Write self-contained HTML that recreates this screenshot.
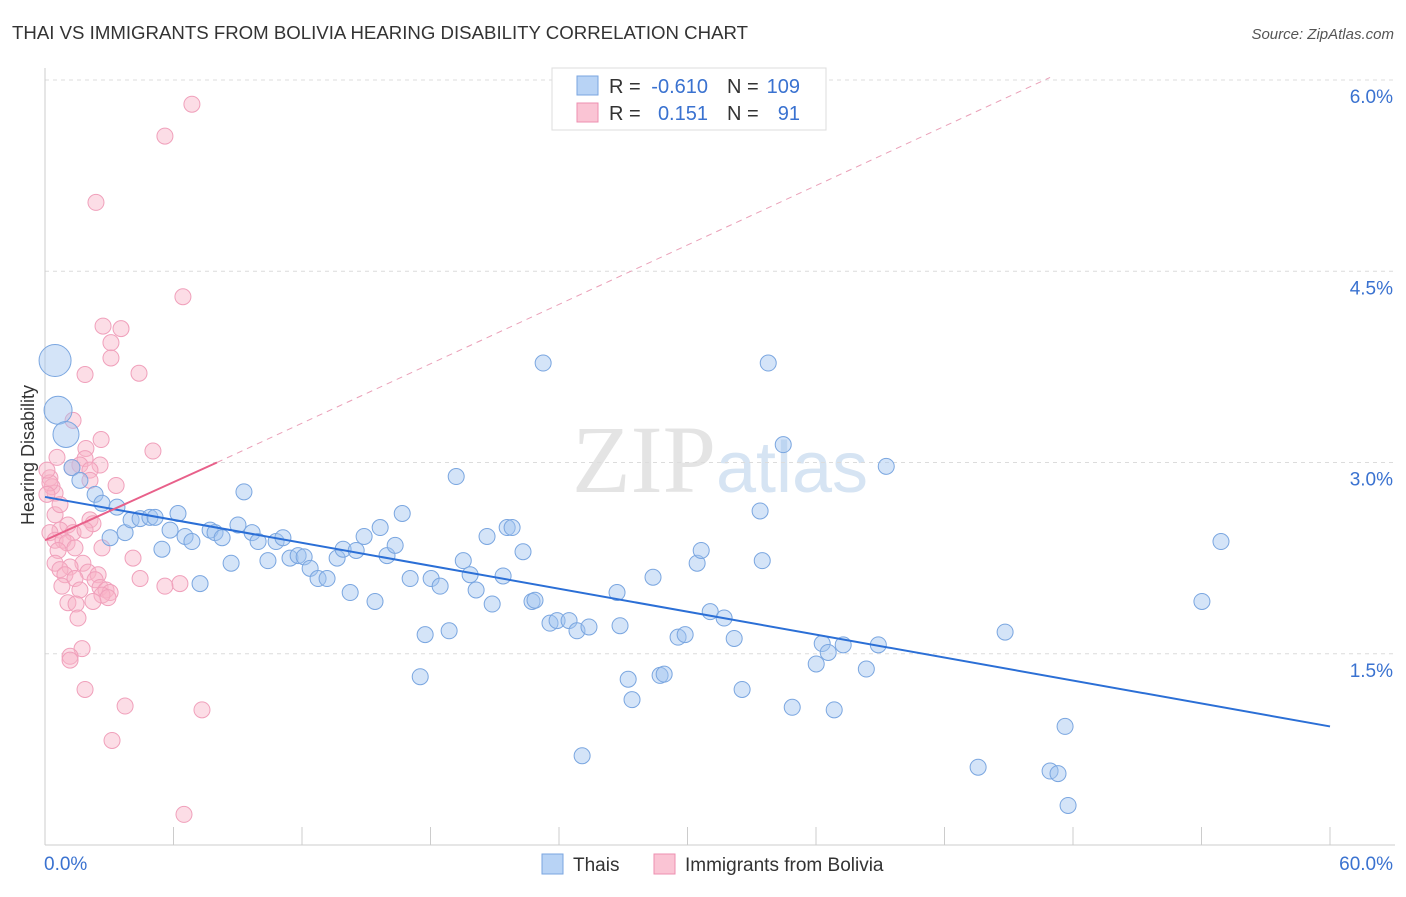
<!DOCTYPE html>
<html><head><meta charset="utf-8"><style>
body{margin:0;background:#fff;font-family:"Liberation Sans",sans-serif}
</style></head><body>
<svg id="chart" width="1406" height="892" xmlns="http://www.w3.org/2000/svg" font-family="Liberation Sans, sans-serif">
<text x="12" y="39" font-size="18" fill="#333" textLength="736" lengthAdjust="spacingAndGlyphs">THAI VS IMMIGRANTS FROM BOLIVIA HEARING DISABILITY CORRELATION CHART</text>
<text x="1394" y="39" font-size="15" fill="#555" font-style="italic" text-anchor="end">Source: ZipAtlas.com</text>
<text x="720" y="492" font-size="96" fill="#e4e4e4" text-anchor="middle" font-family="Liberation Serif, serif">ZIP<tspan fill="#d6e4f3" font-family="Liberation Sans, sans-serif" font-size="72">atlas</tspan></text>
<text transform="translate(34,455) rotate(-90)" font-size="18" fill="#333" text-anchor="middle">Hearing Disability</text>
<g id="grid"></g><g id="axes"></g><g id="marks"></g>
<g>
<rect x="552" y="68" width="274" height="62" fill="#fff" stroke="#ddd"/>
<rect x="577" y="76" width="21" height="19" fill="#b8d3f5" stroke="#7aa6e0"/>
<rect x="577" y="103" width="21" height="19" fill="#fac4d4" stroke="#ee8fb0"/>
<text x="609" y="93" font-size="20" fill="#333">R =</text>
<text x="708" y="93" font-size="20" fill="#3a72d0" text-anchor="end">-0.610</text>
<text x="727" y="93" font-size="20" fill="#333">N =</text>
<text x="800" y="93" font-size="20" fill="#3a72d0" text-anchor="end">109</text>
<text x="609" y="120" font-size="20" fill="#333">R =</text>
<text x="708" y="120" font-size="20" fill="#3a72d0" text-anchor="end">0.151</text>
<text x="727" y="120" font-size="20" fill="#333">N =</text>
<text x="800" y="120" font-size="20" fill="#3a72d0" text-anchor="end">91</text>
</g>
<g>
<rect x="542" y="854" width="21" height="20" fill="#b8d3f5" stroke="#7aa6e0"/>
<text x="573" y="871" font-size="19" fill="#333">Thais</text>
<rect x="654" y="854" width="21" height="20" fill="#fac4d4" stroke="#ee8fb0"/>
<text x="685" y="871" font-size="19" fill="#333">Immigrants from Bolivia</text>
</g>
</svg>
<script>
const yTicks=[1.5,3.0,4.5,6.0];
const yTickLabels=["1.5%","3.0%","4.5%","6.0%"];
const xTickLabels=["0.0%","60.0%"];
const blueX=[0.47,0.61,0.98,1.26,1.63,2.34,2.66,3.36,3.74,3.04,4.02,4.44,4.90,5.14,5.46,5.84,6.21,6.54,6.86,7.24,7.71,7.94,8.27,8.69,9.01,9.29,9.67,9.95,10.41,10.79,11.11,11.44,11.82,12.10,12.38,12.75,13.17,13.64,13.92,14.25,14.53,14.90,15.41,15.65,15.97,16.35,16.68,17.05,17.52,17.75,18.03,18.45,18.87,19.20,19.53,19.85,20.13,20.64,20.88,21.39,21.58,21.81,22.32,22.74,22.88,23.26,23.58,23.91,24.47,24.84,25.08,25.40,26.71,26.85,27.23,27.41,28.39,28.72,28.91,29.56,29.89,30.45,30.64,31.06,31.71,32.18,32.55,33.39,33.49,33.77,34.47,34.89,36.01,36.29,36.57,36.85,37.27,38.35,38.91,39.28,43.57,44.83,46.93,47.30,47.63,47.77,54.02,54.91];
const blueY=[3.80,3.41,3.22,2.96,2.86,2.75,2.68,2.65,2.45,2.41,2.55,2.56,2.57,2.57,2.32,2.47,2.60,2.42,2.38,2.05,2.47,2.45,2.41,2.21,2.51,2.77,2.45,2.38,2.23,2.38,2.41,2.25,2.27,2.26,2.17,2.09,2.09,2.25,2.32,1.98,2.31,2.42,1.91,2.49,2.27,2.35,2.60,2.09,1.32,1.65,2.09,2.03,1.68,2.89,2.23,2.12,2.00,2.42,1.89,2.11,2.49,2.49,2.30,1.91,1.92,3.78,1.74,1.76,1.76,1.68,0.70,1.71,1.98,1.72,1.30,1.14,2.10,1.33,1.34,1.63,1.65,2.21,2.31,1.83,1.78,1.62,1.22,2.62,2.23,3.78,3.14,1.08,1.42,1.58,1.51,1.06,1.57,1.38,1.57,2.97,0.61,1.67,0.58,0.56,0.93,0.31,1.91,2.38];
const pinkX=[6.86,5.60,2.38,6.44,2.71,3.55,3.08,3.08,4.39,1.87,1.31,2.62,5.04,1.91,0.56,1.87,1.63,2.57,1.26,2.10,3.32,2.10,0.23,0.33,0.47,0.23,0.47,2.10,2.24,1.07,0.70,1.31,0.23,0.47,0.84,1.03,0.61,2.66,4.11,0.47,1.77,1.17,0.70,2.01,0.93,2.48,1.40,4.44,2.34,0.79,2.57,2.85,1.63,3.04,6.30,5.60,2.66,2.94,1.07,2.24,1.45,1.54,1.73,1.17,1.17,1.87,3.74,7.33,3.13,6.49,0.09,0.09,0.70,1.40,1.87];
const pinkY=[5.81,5.56,5.04,4.30,4.07,4.05,3.94,3.82,3.70,3.69,3.33,3.18,3.09,3.11,3.04,3.03,2.98,2.98,2.96,2.94,2.82,2.86,2.88,2.81,2.76,2.84,2.59,2.55,2.52,2.51,2.47,2.45,2.45,2.39,2.39,2.37,2.31,2.33,2.25,2.21,2.21,2.18,2.16,2.14,2.12,2.12,2.09,2.09,2.08,2.03,2.02,2.00,2.00,1.98,2.05,2.03,1.96,1.94,1.90,1.91,1.89,1.78,1.54,1.48,1.45,1.22,1.09,1.06,0.82,0.24,2.94,2.75,2.67,2.33,2.47];
const blueSizes=[16,14,13];
const blueTrend=[[0,2.73],[60,0.93]];
const pinkTrendSolid=[[0,2.39],[8.03,3.0]];
const pinkTrendDash=[[8.03,3.0],[46.93,6.02]];
const X0=45,X1=1330,Y0=845,Y6=80;
const xs=v=>X0+(X1-X0)*v/60;
const ys=v=>Y0-(Y0-Y6)*v/6;
const NS="http://www.w3.org/2000/svg";
function mk(parent,tag,attrs){const e=document.createElementNS(NS,tag);for(const k in attrs)e.setAttribute(k,attrs[k]);document.getElementById(parent).appendChild(e);return e;}
yTicks.forEach((t,i)=>{
 const g=mk('grid','line',{x1:X0,x2:1395,y1:ys(t),y2:ys(t),stroke:'#dcdcdc','stroke-dasharray':'4,4'});
 
 
 const l=mk('axes','text',{x:1393,y:ys(t)+23,'font-size':19,fill:'#3a72d0','text-anchor':'end'});
 l.textContent=yTickLabels[i];
 
 
});
let a=mk('axes','line',{x1:X0,x2:X0,y1:68,y2:Y0,stroke:'#ccc'});


a=mk('axes','line',{x1:X0,x2:1395,y1:Y0,y2:Y0,stroke:'#ccc'});


for(let i=1;i<=10;i++){const t=mk('axes','line',{x1:xs(i*6),x2:xs(i*6),y1:Y0-18,y2:Y0,stroke:'#ccc'});
 
 }
let tl=mk('axes','text',{x:44,y:870,'font-size':19,fill:'#3a72d0'});tl.textContent=xTickLabels[0];


tl=mk('axes','text',{x:1393,y:870,'font-size':19,fill:'#3a72d0','text-anchor':'end'});tl.textContent=xTickLabels[1];


pinkX.forEach((x,i)=>{const c=mk('marks','circle',{cx:xs(x),cy:ys(pinkY[i]),r:8,fill:'rgba(248,180,200,0.45)',stroke:'#f0a0bb','stroke-width':1});
 
 });
blueX.forEach((x,i)=>{const c=mk('marks','circle',{cx:xs(x),cy:ys(blueY[i]),r:blueSizes[i]||8,fill:'rgba(160,195,240,0.45)',stroke:'#7aa6e0','stroke-width':1});
 
 });
let ln=mk('marks','line',{x1:xs(blueTrend[0][0]),y1:ys(blueTrend[0][1]),x2:xs(blueTrend[1][0]),y2:ys(blueTrend[1][1]),stroke:'#2b6fd6','stroke-width':2});


ln=mk('marks','line',{x1:xs(pinkTrendSolid[0][0]),y1:ys(pinkTrendSolid[0][1]),x2:xs(pinkTrendSolid[1][0]),y2:ys(pinkTrendSolid[1][1]),stroke:'#e8608a','stroke-width':2});


ln=mk('marks','line',{x1:xs(pinkTrendDash[0][0]),y1:ys(pinkTrendDash[0][1]),x2:xs(pinkTrendDash[1][0]),y2:ys(pinkTrendDash[1][1]),stroke:'#eaa0b8','stroke-width':1,'stroke-dasharray':'6,5'});


</script>
</body></html>
